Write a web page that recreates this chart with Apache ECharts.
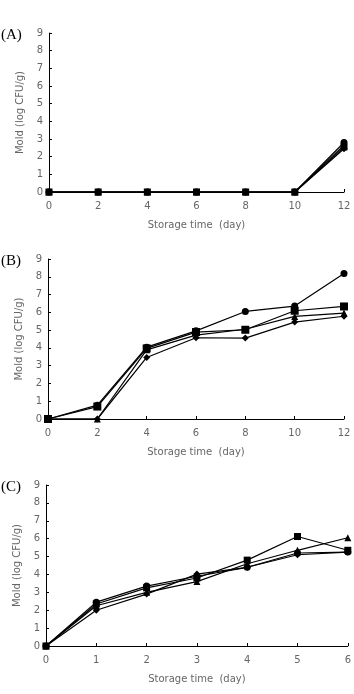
<!DOCTYPE html>
<html><head><meta charset="utf-8">
<script src="https://cdn.jsdelivr.net/npm/echarts@6/dist/echarts.min.js"></script>
<style>html,body{margin:0;padding:0;background:#fff}#c{width:354px;height:694px}</style>
</head><body><div id="c"></div>
<script>
// Panel A
var daysA = [0, 2, 4, 6, 8, 10, 12];
var aCircle   = [0, 0, 0, 0, 0, 0, 2.8];
var aTriangle = [0, 0, 0, 0, 0, 0, 2.65];
var aDiamond  = [0, 0, 0, 0, 0, 0, 2.45];
var aSquare   = [0, 0, 0, 0, 0, 0, 2.55];
// Panel B
var daysB = [0, 2, 4, 6, 8, 10, 12];
var bCircle   = [0, 0.78, 4.04, 4.96, 6.05, 6.35, 8.18];
var bSquare   = [0, 0.7, 3.97, 4.89, 5.02, 6.09, 6.33];
var bTriangle = [0, 0, 3.89, 4.72, 5.05, 5.77, 5.96];
var bDiamond  = [0, 0, 3.46, 4.57, 4.55, 5.45, 5.78];
// Panel C
var daysC = [0, 1, 2, 3, 4, 5, 6];
var cCircle   = [0, 2.45, 3.35, 3.9, 4.4, 5.2, 5.25];
var cSquare   = [0, 2.35, 3.25, 3.8, 4.8, 6.12, 5.35];
var cTriangle = [0, 2.25, 3.0, 3.6, 4.6, 5.35, 6.05];
var cDiamond  = [0, 2.0, 2.9, 4.02, 4.4, 5.1, 5.25];
var yTicks = [0,1,2,3,4,5,6,7,8,9];
var xTitle = 'Storage time  (day)';
var yTitle = 'Mold (log CFU/g)';
var panelLabels = ['(A)', '(B)', '(C)'];

function pairs(xs, ys){ return xs.map(function(x,i){ return [x, ys[i]]; }); }
var labelColor = '#666';
var fontFam = 'DejaVu Sans, sans-serif';
function xAx(idx, max, interval){
  return {gridIndex: idx, type: 'value', min: 0, max: max, interval: interval,
    name: xTitle, nameLocation: 'middle', nameGap: 28,
    nameTextStyle: {color: labelColor, fontSize: 10, fontFamily: fontFam},
    axisLine: {lineStyle: {color: '#000', width: 1}},
    axisTick: {inside: true, length: 3, lineStyle: {color: '#000'}},
    axisLabel: {color: labelColor, fontSize: 10, margin: 9, fontFamily: fontFam},
    splitLine: {show: false}};
}
function yAx(idx){
  return {gridIndex: idx, type: 'value', min: 0, max: 9, interval: 1,
    name: yTitle, nameLocation: 'middle', nameGap: 19, nameRotate: 90,
    nameTextStyle: {color: labelColor, fontSize: 10, fontFamily: fontFam},
    axisLine: {show: true, lineStyle: {color: '#000', width: 1}},
    axisTick: {show: true, inside: true, length: 3, lineStyle: {color: '#000'}},
    axisLabel: {color: labelColor, fontSize: 10, margin: 6, fontFamily: fontFam,
      formatter: function(v){ return yTicks.indexOf(v) >= 0 ? String(v) : ''; }},
    splitLine: {show: false}};
}
function ser(idx, xs, ys, sym, size){
  return {type: 'line', xAxisIndex: idx, yAxisIndex: idx, data: pairs(xs, ys),
    symbol: sym, symbolSize: size, showSymbol: true,
    lineStyle: {color: '#000', width: 1.2}, itemStyle: {color: '#000'}, animation: false};
}
var chart = echarts.init(document.getElementById('c'), null, {renderer: 'canvas'});
chart.setOption({
  animation: false,
  grid: [
    {left: 49, right: 10, top: 33, height: 159},
    {left: 48, right: 10, top: 259, height: 160},
    {left: 46, right: 5, top: 485, height: 161}
  ],
  xAxis: [xAx(0, 12, 2), xAx(1, 12, 2), xAx(2, 6, 1)],
  yAxis: [yAx(0), yAx(1), yAx(2)],
  graphic: [
    {type: 'text', left: 1, top: 28, style: {text: panelLabels[0], font: '15px "Liberation Serif", serif', fill: '#000'}},
    {type: 'text', left: 1, top: 254, style: {text: panelLabels[1], font: '15px "Liberation Serif", serif', fill: '#000'}},
    {type: 'text', left: 1, top: 480, style: {text: panelLabels[2], font: '15px "Liberation Serif", serif', fill: '#000'}}
  ],
  series: [
    ser(0, daysA, aDiamond, 'diamond', 7),
    ser(0, daysA, aTriangle, 'triangle', 7),
    ser(0, daysA, aCircle, 'circle', 7),
    ser(0, daysA, aSquare, 'rect', 7),
    ser(1, daysB, bDiamond, 'diamond', 7),
    ser(1, daysB, bTriangle, 'triangle', 7),
    ser(1, daysB, bCircle, 'circle', 7),
    ser(1, daysB, bSquare, 'rect', 8),
    ser(2, daysC, cDiamond, 'diamond', 7),
    ser(2, daysC, cTriangle, 'triangle', 7),
    ser(2, daysC, cCircle, 'circle', 7),
    ser(2, daysC, cSquare, 'rect', 7)
  ]
});
</script></body></html>
